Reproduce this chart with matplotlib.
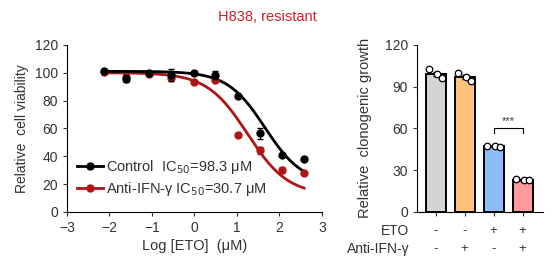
import matplotlib
matplotlib.use('Agg')
import matplotlib.pyplot as plt
import numpy as np

plt.rcParams['font.family'] = ['Liberation Sans', 'DejaVu Sans']

# dose response data (log uM)
log_dose = [-2.12, -1.6, -1.06, -0.55, -0.02, 0.49, 1.03, 1.55, 2.07, 2.58]
ctrl_mean = [101, 95.5, 100, 98.4, 100, 98.4, 83.5, 56.4, 40.8, 37.9]
ctrl_err = [0.5, 2.5, 0.5, 4.5, 0.5, 3.0, 0.5, 4.0, 1.0, 0.5]
ifn_mean = [100.5, 97, 99, 96, 93.5, 94.5, 55.2, 44.4, 30.0, 28.1]
ifn_err = [0.5, 0.5, 0.5, 0.5, 0.5, 0.5, 0.5, 2.5, 2.0, 0.5]

# fitted 4PL curve parameters (top, bottom, logIC50, hill)
ctrl_fit = (101, 20, 1.66, 0.98)
ifn_fit = (100, 12, 1.25, 0.91)

# clonogenic data
bar_means = [99.3, 97.2, 47.0, 23.0]
bar_errs = [1.5, 1.5, 0.5, 0.5]
bar_points = [[103, 99, 96.5], [100, 97.2, 94], [47.5, 47, 46.5], [23.5, 23, 23]]
bar_colors = ['#d4d4d4', '#ffc27c', '#8ebcf7', '#ff9aa0']
eto_signs = ['-', '-', '+', '+']
ifn_signs = ['-', '+', '-', '+']

def fourpl(x, p):
    top, bottom, c, h = p
    return bottom + (top - bottom) / (1 + 10 ** ((x - c) * h))

fig = plt.figure(figsize=(5.58, 2.72), dpi=100)
ax = fig.add_axes([0.120, 0.221, 0.457, 0.614])
ax2 = fig.add_axes([0.747, 0.221, 0.226, 0.614])

red = '#b01515'
grey = '#333333'
xs = np.linspace(log_dose[0], log_dose[-1], 200)
ax.plot(xs, fourpl(xs, ifn_fit), color=red, lw=2, zorder=2)
ax.plot(xs, fourpl(xs, ctrl_fit), color='black', lw=2, zorder=2)
ax.errorbar(log_dose, ifn_mean, yerr=ifn_err, fmt='o', color=red, ms=5,
            capsize=2.5, elinewidth=0.8, zorder=3)
ax.errorbar(log_dose, ctrl_mean, yerr=ctrl_err, fmt='o', color='black', ms=5,
            capsize=2.5, elinewidth=0.8, zorder=4)

# legend handles
h1, = ax.plot([], [], '-o', color='black', lw=2, ms=5)
h2, = ax.plot([], [], '-o', color=red, lw=2, ms=5)
ax.legend([h1, h2], ['Control  IC$_{50}$=98.3 μM', 'Anti-IFN-γ IC$_{50}$=30.7 μM'],
          loc='lower left', bbox_to_anchor=(0.0, 0.02), frameon=False,
          fontsize=10.5, handlelength=1.8, handletextpad=0.15, labelspacing=0.3,
          borderaxespad=0.3, labelcolor=grey)

ax.set_xlim(-3, 3)
ax.set_ylim(0, 120)
ax.set_xticks(range(-3, 4))
ax.set_yticks(range(0, 121, 20))
ax.set_xlabel('Log [ETO]  (μM)', fontsize=10.5, color=grey, labelpad=3)
ax.set_ylabel('Relative  cell viability', fontsize=10, color=grey)
for s in ['top', 'right']:
    ax.spines[s].set_visible(False)
ax.tick_params(labelsize=10, length=3, colors=grey)

# bar chart
xpos = np.arange(4)
ax2.bar(xpos, bar_means, width=0.69, color=bar_colors, edgecolor='black', lw=1.4, zorder=2)
ax2.errorbar(xpos, bar_means, yerr=bar_errs, fmt='none', ecolor='black',
             capsize=2, elinewidth=0.8, zorder=3)
for i, pts in enumerate(bar_points):
    offs = np.array([-0.22, 0.03, 0.22])
    ax2.scatter(xpos[i] + offs, pts, s=22, facecolor='white', edgecolor='black',
                lw=0.9, zorder=4)

# significance bracket
ax2.plot([2, 2, 3, 3], [57, 60, 60, 57], color='black', lw=0.8)
ax2.text(2.5, 62, '***', ha='center', va='bottom', fontsize=8, color=grey)

ax2.set_xlim(-0.65, 3.7)
ax2.set_ylim(0, 120)
ax2.set_yticks(range(0, 121, 30))
ax2.set_xticks(xpos)
ax2.set_xticklabels([])
ax2.set_ylabel('Relative  clonogenic growth', fontsize=10.5, color=grey, labelpad=9)
for s in ['top', 'right']:
    ax2.spines[s].set_visible(False)
ax2.tick_params(labelsize=10, length=3, colors=grey)

for i in range(4):
    ax2.text(xpos[i], -14, eto_signs[i], ha='center', va='center', fontsize=9.5,
             color=grey, clip_on=False)
    ax2.text(xpos[i], -27, ifn_signs[i], ha='center', va='center', fontsize=9.5,
             color=grey, clip_on=False)
ax2.text(-0.9, -14, 'ETO', ha='right', va='center', fontsize=10, color=grey,
         clip_on=False)
ax2.text(-0.9, -27, 'Anti-IFN-γ', ha='right', va='center', fontsize=10, color=grey,
         clip_on=False)

fig.text(0.479, 0.937, 'H838, resistant', color='#d0202a', fontsize=10.5,
         ha='center', va='center')

fig.savefig('out.png', dpi=100)
